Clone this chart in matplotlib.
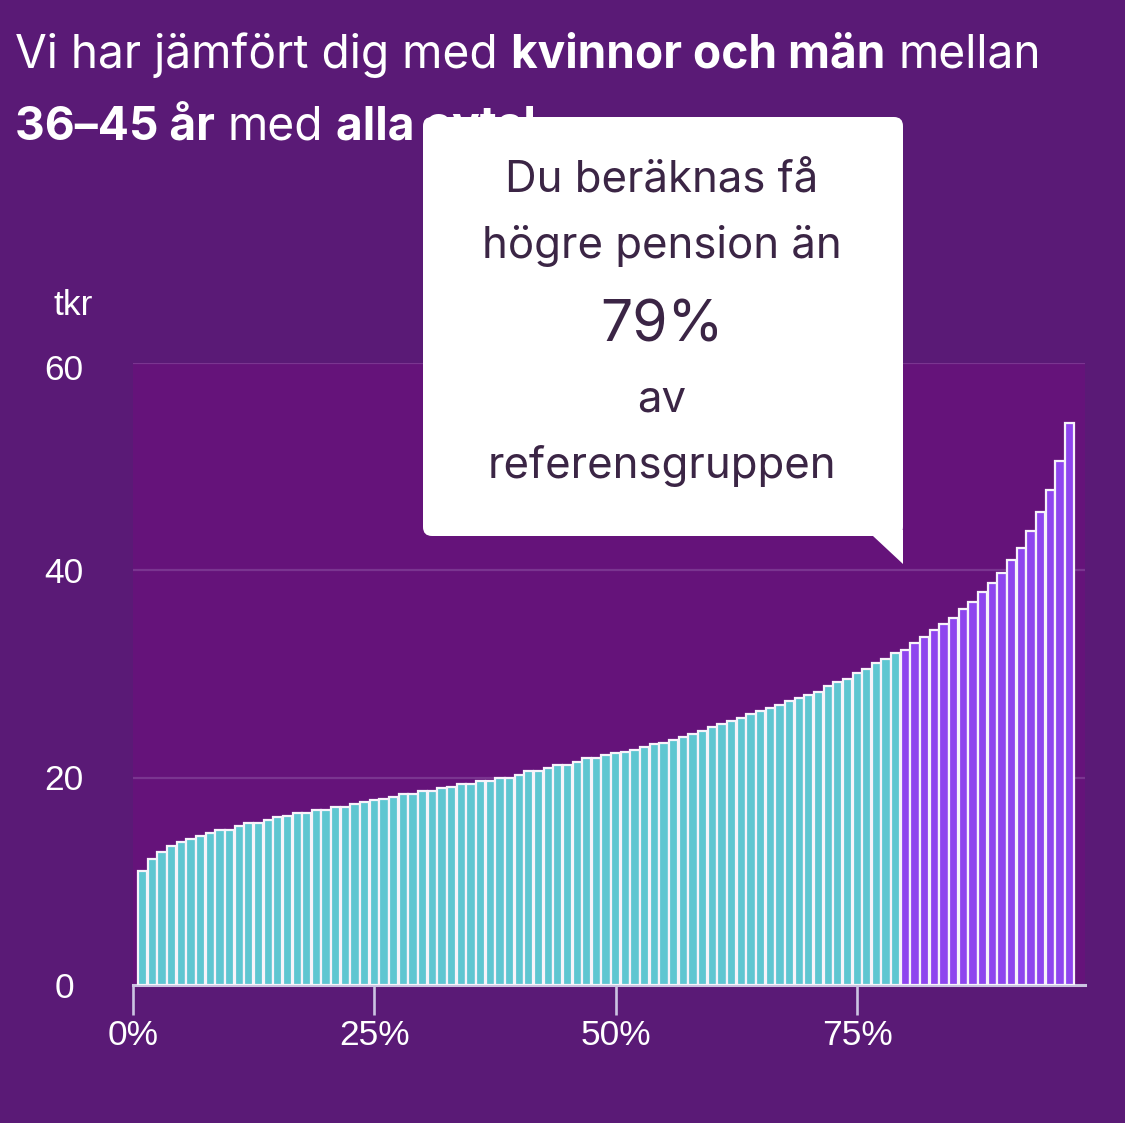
import numpy as np
import matplotlib.pyplot as plt
from matplotlib.patches import FancyBboxPatch, Polygon
from matplotlib.transforms import blended_transform_factory, ScaledTranslation

plt.rcParams['font.family'] = ['Liberation Sans', 'DejaVu Sans']

W, H = 1125, 1123

# === Data: pension (tkr) per percentile of the reference group ===
percentiles = np.arange(1, 98)
pension_tkr = [
    11.0, 12.2, 12.85, 13.45, 13.75, 14.1, 14.4, 14.7, 15.0, 15.0,
    15.35, 15.6, 15.65, 15.95, 16.25, 16.3, 16.55, 16.6, 16.85, 16.9,
    17.15, 17.2, 17.5, 17.65, 17.85, 17.9, 18.15, 18.4, 18.45, 18.7,
    18.75, 19.05, 19.1, 19.35, 19.4, 19.7, 19.7, 19.95, 20.0, 20.3,
    20.6, 20.65, 20.9, 21.2, 21.25, 21.55, 21.85, 21.9, 22.15, 22.4,
    22.45, 22.7, 23.0, 23.25, 23.3, 23.6, 23.9, 24.2, 24.5, 24.85,
    25.15, 25.45, 25.75, 26.1, 26.4, 26.7, 27.0, 27.35, 27.65, 27.95,
    28.3, 28.85, 29.2, 29.5, 30.1, 30.45, 31.05, 31.4, 32.0, 32.3,
    32.95, 33.55, 34.2, 34.8, 35.4, 36.3, 36.95, 37.9, 38.8, 39.75,
    40.95, 42.2, 43.75, 45.6, 47.75, 50.55, 54.25,
]
user_percentile = 79

y_ticks = [0, 20, 40, 60]
x_ticks = [0, 25, 50, 75]
x_tick_labels = ["0%", "25%", "50%", "75%"]

title_line1 = [("Vi har jämfört dig med", "normal"), ("kvinnor och män", "bold"), ("mellan", "normal")]
title_line2 = [("36–45 år", "bold"), ("med", "normal"), ("alla avtal", "bold")]
callout_lines = ["Du beräknas få", "högre pension än", f"{user_percentile}%", "av", "referensgruppen"]

# === Colours ===
BG = '#5a1a76'
PLOT_BG = '#65137a'
GRID = '#7a3590'
AXIS = '#cbc4e2'
CYAN = '#5ec6d1'
PURPLE = '#8e45ee'
EDGE = '#f7f3fa'
DARK = '#3b2545'
TITLE_FONT = 'Inter'
LABEL_SIZE = 25.5

fig = plt.figure(figsize=(W / 100, H / 100), dpi=100, facecolor=BG)
ax = fig.add_axes([133 / W, 138 / H, 952 / W, 622 / H])
ax.set_facecolor(PLOT_BG)

colors = [CYAN if p <= user_percentile else PURPLE for p in percentiles]
ax.bar(percentiles, pension_tkr, width=0.96, color=colors,
       edgecolor=EDGE, linewidth=1.6, zorder=3)

ax.set_xlim(0, 98.6)
ax.set_ylim(0, 60)

# grid + y labels (nudged a few px down, like the original)
ax.set_yticks(y_ticks)
ax.yaxis.grid(True, color=GRID, linewidth=1.6)
ax.set_axisbelow(True)
ax.tick_params(axis='y', length=0, labelleft=False)
trans = blended_transform_factory(ax.transAxes, ax.transData)
for v in y_ticks:
    shift = 0.07 if v == y_ticks[-1] else 0.03
    ax.text(-0.0725, v, str(v),
            transform=trans + ScaledTranslation(0, -shift, fig.dpi_scale_trans),
            ha='center', va='center', fontsize=LABEL_SIZE, color='white')

# x axis
ax.set_xticks(x_ticks, x_tick_labels)
ax.tick_params(axis='x', length=21.6, width=1.9, color=AXIS,
               labelsize=LABEL_SIZE, labelcolor='white', pad=3)
for s in ['top', 'right', 'left']:
    ax.spines[s].set_visible(False)
ax.spines['bottom'].set_color(AXIS)
ax.spines['bottom'].set_linewidth(2.2)

fig.text(53 / W, 1 - 315 / H, 'tkr', va='baseline', fontsize=LABEL_SIZE, color='white')

# === Title with mixed weights ===
renderer = fig.canvas.get_renderer()
TITLE_SIZE = 33.2


def text_width(s, weight):
    t = fig.text(0, 0, s, fontsize=TITLE_SIZE, fontweight=weight, family=TITLE_FONT)
    w = t.get_window_extent(renderer).width
    t.remove()
    return w


space_w = text_width("x x", "normal") - text_width("xx", "normal")


def draw_line(pieces, x_px, y_px):
    for s, weight in pieces:
        t = fig.text(x_px / W, 1 - y_px / H, s, fontsize=TITLE_SIZE, fontweight=weight,
                     family=TITLE_FONT, color='white', va='baseline', zorder=1)
        x_px += t.get_window_extent(renderer).width + space_w


draw_line(title_line1, 15, 68)
draw_line(title_line2, 15, 140)

# === Callout box ===
def fx(x):
    return x / W


def fy(y):
    return 1 - y / H


box = FancyBboxPatch((fx(423), fy(536)), fx(903) - fx(423), fy(117) - fy(536),
                     boxstyle="round,pad=0,rounding_size=0.008",
                     transform=fig.transFigure, fc='white', ec='none', zorder=5)
fig.add_artist(box)
tail = Polygon([(fx(873), fy(530)), (fx(903), fy(530)), (fx(903), fy(564)), (fx(873), fy(536))],
               closed=True, transform=fig.transFigure, fc='white', ec='none', zorder=5)
fig.add_artist(tail)

baselines = [192, 258, 341, 412, 478]
sizes = [31.5, 31.5, 41, 31.5, 31.5]
for line, yb, fs in zip(callout_lines, baselines, sizes):
    fig.text(fx(662), fy(yb), line, ha='center', va='baseline', fontsize=fs,
             family=TITLE_FONT, color=DARK, zorder=6)

fig.savefig('out.png', dpi=100, facecolor=BG)
